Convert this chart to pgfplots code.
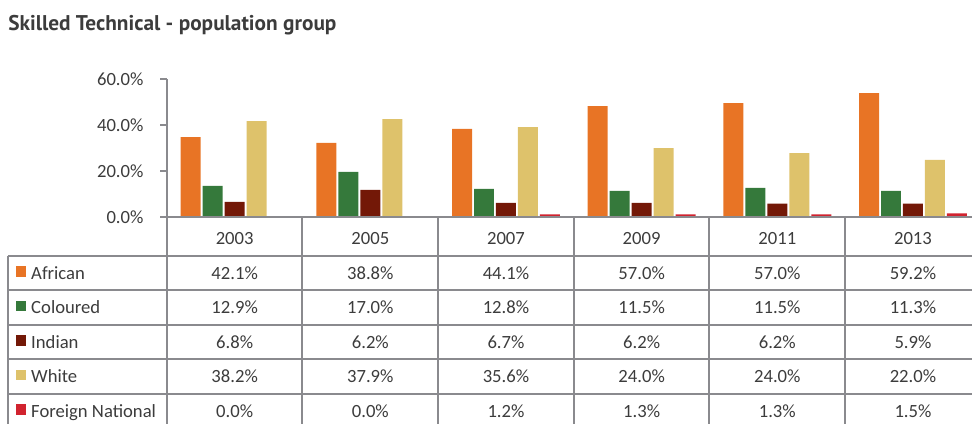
\documentclass[border=0pt]{standalone}
\usepackage{pgfplots}
\pgfplotsset{compat=1.18}
\usepackage{fontspec}
\setmainfont{Carlito}
\newfontfamily\titlefont{PT Sans}
\definecolor{cAfr}{HTML}{E87425}
\definecolor{cCol}{HTML}{35793B}
\definecolor{cInd}{HTML}{731807}
\definecolor{cWhi}{HTML}{DEC26B}
\definecolor{cFor}{HTML}{D1232F}
\definecolor{txt}{HTML}{3C3C3C}
\definecolor{gridc}{HTML}{8A8A8E}
\begin{document}
\begin{tikzpicture}
\begin{axis}[
  at={(125.25pt,-162.75pt)}, anchor=south west,
  x=101.85pt, y=1.72125pt,
  xmin=0, xmax=5.935, ymin=0, ymax=60,
  axis x line=none, axis y line=left,
  y axis line style={-, gridc, line width=1.5pt},
  ytick={0,20,40,60}, xtick=\empty,
  tick align=outside, major tick length=5pt,
  ytick style={gridc, line width=1.5pt},
  /pgf/number format/assume math mode=true,
  yticklabel={\pgfmathprintnumber[fixed,fixed zerofill,precision=1]{\tick}\%},
  yticklabel style={font=\fontsize{14}{16}\selectfont, text=txt, anchor=east, xshift=-9pt},
  clip=false,
]
\addplot[ybar, bar width=15pt, bar shift=-33pt, fill=cAfr, draw=none] coordinates {(0.5,34.8) (1.5,32.2) (2.5,38.3) (3.5,48.3) (4.5,49.6) (5.5,53.9)};
\addplot[ybar, bar width=15pt, bar shift=-16.5pt, fill=cCol, draw=none] coordinates {(0.5,13.5) (1.5,19.6) (2.5,12.2) (3.5,11.3) (4.5,12.6) (5.5,11.3)};
\addplot[ybar, bar width=15pt, bar shift=0pt, fill=cInd, draw=none] coordinates {(0.5,6.5) (1.5,11.7) (2.5,6.1) (3.5,6.1) (4.5,5.7) (5.5,5.7)};
\addplot[ybar, bar width=15pt, bar shift=16.5pt, fill=cWhi, draw=none] coordinates {(0.5,41.7) (1.5,42.6) (2.5,39.1) (3.5,30.0) (4.5,27.8) (5.5,24.8)};
\addplot[ybar, bar width=15pt, bar shift=33pt, fill=cFor, draw=none] coordinates {(0.5,0) (1.5,0) (2.5,1.0) (3.5,1.0) (4.5,1.0) (5.5,1.5)};
\end{axis}
\begin{scope}[x=0.75pt, y=-0.75pt, every node/.style={font=\fontsize{14}{16}\selectfont, text=txt, inner sep=0pt}]
  \path (0,0) rectangle (973,424);
  \node[anchor=base west, font=\titlefont\bfseries\fontsize{16}{18}\selectfont, text=txt] at (8,31) {Skilled Technical - population group};
  \draw[gridc, line width=1.5pt] (167,217) -- (973,217);
  \foreach \yy in {256,290.6,325.2,359.8,394.4} \draw[gridc, line width=1.5pt] (8,\yy) -- (973,\yy);
  \draw[gridc, line width=1.5pt] (8,256) -- (8,424);
  \foreach \xx in {167,302.8,438.6,574.4,710.2,846} \draw[gridc, line width=1.5pt] (\xx,217) -- (\xx,424);
  \foreach \yr [count=\i from 0] in {2003,2005,2007,2009,2011,2013}
    \node[anchor=base] at (234.9+135.8*\i,245) {\yr};
  \foreach \nm/\cc [count=\r from 0] in {African/cAfr, Coloured/cCol, Indian/cInd, White/cWhi, Foreign National/cFor} {
    \fill[\cc] (16,256+34.6*\r+10.5) rectangle (26.5,256+34.6*\r+21);
    \node[anchor=base west] at (31,256+34.6*\r+23.3) {\nm};
  }
  \foreach \r/\vals in {0/{42.1,38.8,44.1,57.0,57.0,59.2}, 1/{12.9,17.0,12.8,11.5,11.5,11.3}, 2/{6.8,6.2,6.7,6.2,6.2,5.9}, 3/{38.2,37.9,35.6,24.0,24.0,22.0}, 4/{0.0,0.0,1.2,1.3,1.3,1.5}}
    \foreach \v [count=\i from 0] in \vals
      \node[anchor=base] at (234.9+135.8*\i,256+34.6*\r+23.3) {\v\%};
\end{scope}
\end{tikzpicture}
\end{document}
